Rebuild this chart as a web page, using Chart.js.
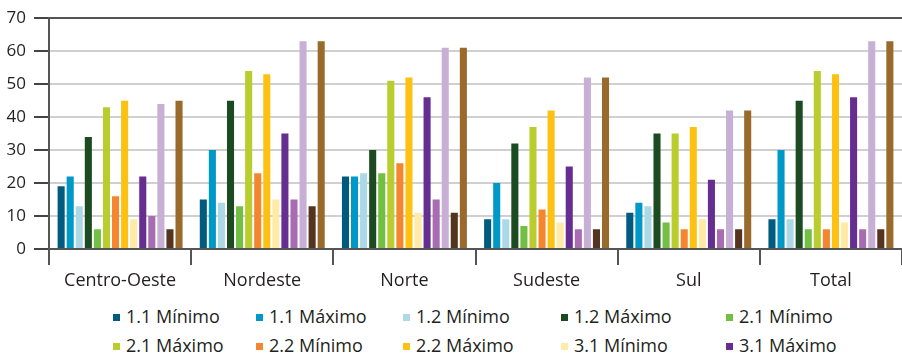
<!DOCTYPE html>
<html>
<head>
<meta charset="utf-8">
<script src="https://cdn.jsdelivr.net/npm/chart.js@4.4.1/dist/chart.umd.min.js"></script>
<style>
    body { margin: 0; width: 902px; height: 355px; overflow: hidden; background: #fff; font-family: 'Open Sans', sans-serif; }
    #chart-box { position: absolute; left: 0; top: 0; width: 902px; height: 300px; }
    .legend-item { position: absolute; display: flex; align-items: center; font-size: 18px; line-height: 20px; color: #231f20; white-space: nowrap; }
    .legend-item .box { width: 7px; height: 7px; margin-right: 6px; margin-top: 3px; }
</style>
</head>
<body>
<div id="chart-box"><canvas id="regionChart"></canvas></div>
<div id="legend"></div>
<script>
const categories = ["Centro-Oeste", "Nordeste", "Norte", "Sudeste", "Sul", "Total"];
const yTicks = [0, 10, 20, 30, 40, 50, 60, 70];

const seriesNames = ["1.1 Mínimo", "1.1 Máximo", "1.2 Mínimo", "1.2 Máximo", "2.1 Mínimo", "2.1 Máximo",
    "2.2 Mínimo", "2.2 Máximo", "3.1 Mínimo", "3.1 Máximo", "3.2 Mínimo", "3.2 Máximo", "3.3 Mínimo", "3.3 Máximo"];

const min11 = [19, 15, 22, 9, 11, 9];
const max11 = [22, 30, 22, 20, 14, 30];
const min12 = [13, 14, 23, 9, 13, 9];
const max12 = [34, 45, 30, 32, 35, 45];
const min21 = [6, 13, 23, 7, 8, 6];
const max21 = [43, 54, 51, 37, 35, 54];
const min22 = [16, 23, 26, 12, 6, 6];
const max22 = [45, 53, 52, 42, 37, 53];
const min31 = [9, 15, 11, 8, 9, 8];
const max31 = [22, 35, 46, 25, 21, 46];
const min32 = [10, 15, 15, 6, 6, 6];
const max32 = [44, 63, 61, 52, 42, 63];
const min33 = [6, 13, 11, 6, 6, 6];
const max33 = [45, 63, 61, 52, 42, 63];

const seriesValues = [min11, max11, min12, max12, min21, max21, min22, max22, min31, max31, min32, max32, min33, max33];
const seriesColors = ["#005b7f", "#0098c7", "#add8e6", "#1d4b21", "#72bf44", "#b9cd2f", "#f58630",
    "#fdc113", "#ffeaa7", "#662e91", "#a86db0", "#c8afd5", "#55341f", "#996a2b"];

Chart.defaults.font.family = "'Open Sans', sans-serif";
Chart.defaults.font.size = 17;
Chart.defaults.color = "#231f20";

const datasets = seriesNames.map((name, i) => ({
    label: name,
    data: seriesValues[i],
    backgroundColor: seriesColors[i],
    borderWidth: 0,
    categoryPercentage: 0.893,
    barPercentage: 0.78
}));

const chart = new Chart(document.getElementById("regionChart"), {
    type: 'bar',
    data: { labels: categories, datasets: datasets },
    options: {
        responsive: true,
        maintainAspectRatio: false,
        animation: false,
        layout: { padding: { top: 17, right: 0, bottom: 0, left: 0 } },
        plugins: { legend: { display: false }, tooltip: { enabled: false } },
        scales: {
            x: {
                offset: true,
                grid: { offset: true, drawOnChartArea: false, color: "#555", lineWidth: 2, tickLength: 16 },
                border: { display: false },
                ticks: { padding: 5, maxRotation: 0, autoSkip: false, font: { size: 18 } },
                afterFit: (scale) => { scale.height = 51; }
            },
            y: {
                min: yTicks[0],
                max: yTicks[yTicks.length - 1],
                afterBuildTicks: (scale) => { scale.ticks = yTicks.map(v => ({ value: v })); },
                grid: {
                    color: (ctx) => (ctx.tick.value === 0 || ctx.tick.value === 70) ? "#555" : "#d0d0d0",
                    tickColor: "#444",
                    lineWidth: 2,
                    tickLength: 15
                },
                border: { display: true, color: "#555", width: 2 },
                ticks: { padding: 8 },
                afterFit: (scale) => { scale.width = 49; }
            }
        }
    }
});

// legend as a 5-column grid below the chart
const colLeft = [113, 256, 403, 561, 726];
const legend = document.getElementById("legend");
chart.data.datasets.forEach((ds, i) => {
    const item = document.createElement("div");
    item.className = "legend-item";
    item.style.left = colLeft[i % 5] + "px";
    item.style.top = (306 + Math.floor(i / 5) * 29) + "px";
    item.innerHTML = '<span class="box" style="background:' + ds.backgroundColor + '"></span>' + ds.label;
    legend.appendChild(item);
});
</script>
</body>
</html>
